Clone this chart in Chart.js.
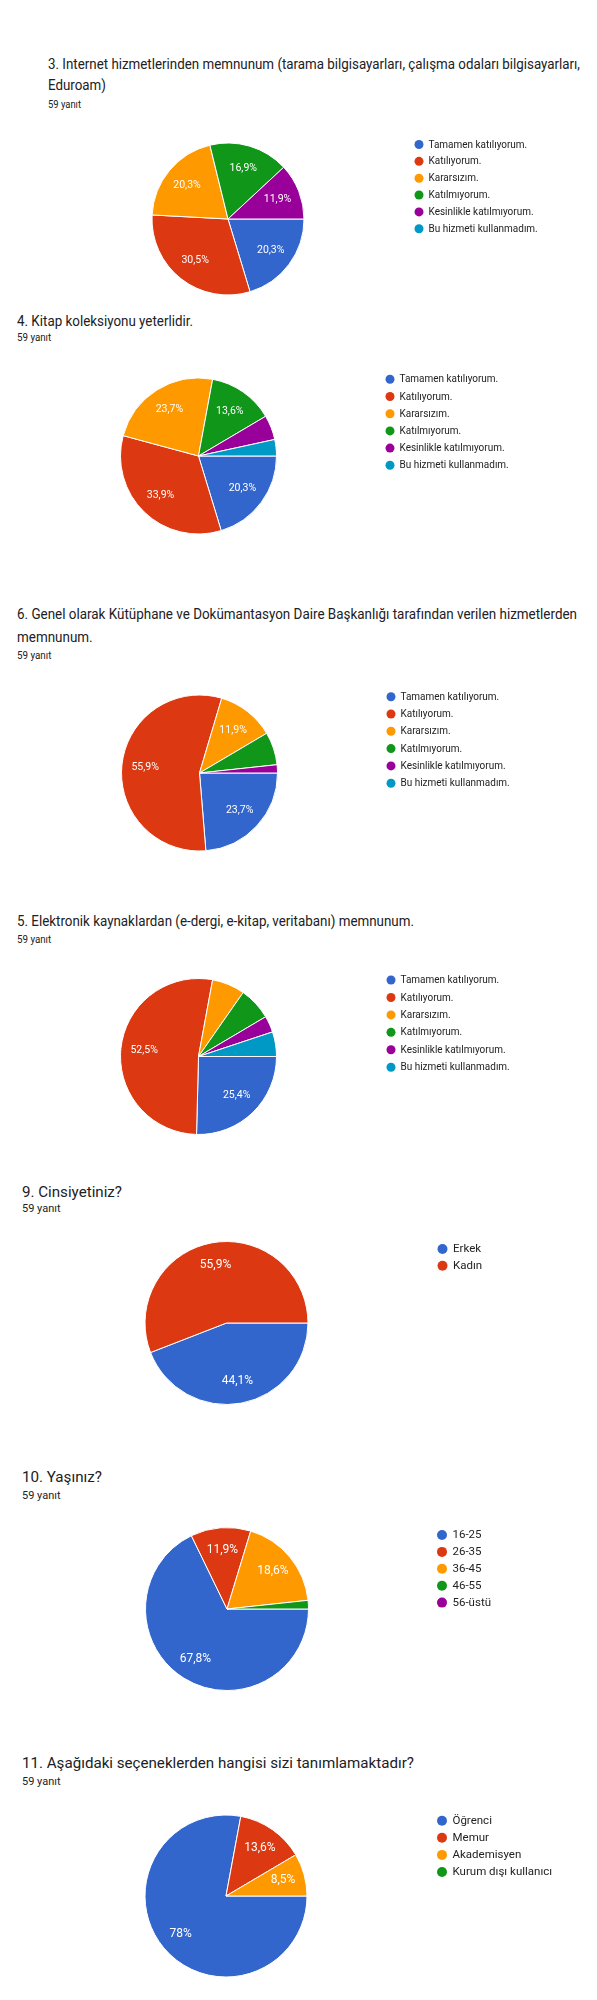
<!DOCTYPE html>
<html><head><meta charset="utf-8">
<script src="https://cdn.jsdelivr.net/npm/chart.js@4.4.1/dist/chart.umd.min.js"></script>
<style>
html,body{margin:0;padding:0;background:#fff;}
body{width:597px;height:2000px;position:relative;overflow:hidden;font-family:Roboto,"Noto Sans",sans-serif;color:#202124;}
.t{position:absolute;white-space:nowrap;transform-origin:0 50%;line-height:1.2;}
canvas{position:absolute;left:0;}
</style></head><body>
<script>
// ---------- DATA ----------
const agreeLabels = ['Tamamen katılıyorum.', 'Katılıyorum.', 'Kararsızım.', 'Katılmıyorum.', 'Kesinlikle katılmıyorum.', 'Bu hizmeti kullanmadım.'];
const q3Title = ['3. Internet hizmetlerinden memnunum (tarama bilgisayarları, çalışma odaları bilgisayarları,', 'Eduroam)'];
const q3Values = [20.3, 30.5, 20.3, 16.9, 11.9, 0];
const q4Title = ['4. Kitap koleksiyonu yeterlidir.'];
const q4Values = [20.3, 33.9, 23.7, 13.6, 5.1, 3.4];
const q6Title = ['6. Genel olarak Kütüphane ve Dokümantasyon Daire Başkanlığı tarafından verilen hizmetlerden', 'memnunum.'];
const q6Values = [23.7, 55.9, 11.9, 6.8, 1.7, 0];
const q5Title = ['5. Elektronik kaynaklardan (e-dergi, e-kitap, veritabanı) memnunum.'];
const q5Values = [25.4, 52.5, 6.8, 6.8, 3.4, 5.1];
const q9Title = ['9. Cinsiyetiniz?'];
const genderLabels = ['Erkek', 'Kadın'];
const q9Values = [44.1, 55.9];
const q10Title = ['10. Yaşınız?'];
const ageLabels = ['16-25', '26-35', '36-45', '46-55', '56-üstü'];
const q10Values = [67.8, 11.9, 18.6, 1.7, 0];
const q11Title = ['11. Aşağıdaki seçeneklerden hangisi sizi tanımlamaktadır?'];
const roleLabels = ['Öğrenci', 'Memur', 'Akademisyen', 'Kurum dışı kullanıcı'];
const q11Values = [78, 13.6, 8.5, 0];
const responseText = '59 yanıt';
const palette = ['#3366cc', '#dc3912', '#ff9900', '#109618', '#990099', '#0099c6'];

// ---------- LAYOUT ----------
const W = 597;
const charts = [
  {title:q3Title, labels:agreeLabels, values:q3Values, tx:48, ty:[65,86], tw:532, tfs:14.5, sy:105, sfs:10,
   cx:228, cy:219, r:76, lx:419, ly:144.5, ls:16.85, lfs:10.5, lsx:0.95, cr:4.5, gap:9.5, pfs:10.5, pf:0.7},
  {title:q4Title, labels:agreeLabels, values:q4Values, tx:17, ty:[321], tw:176, tfs:14, sy:338, sfs:10,
   cx:198.5, cy:456, r:78, lx:390, ly:379.3, ls:17.2, lfs:10.5, lsx:0.95, cr:4.5, gap:9.5, pfs:10.5, pf:0.7},
  {title:q6Title, labels:agreeLabels, values:q6Values, tx:17, ty:[614,637], tw:560, tfs:14, sy:656, sfs:10,
   cx:199.5, cy:773, r:78, lx:391, ly:696.7, ls:17.3, lfs:10.5, lsx:0.95, cr:4.5, gap:9.5, pfs:10.5, pf:0.7},
  {title:q5Title, labels:agreeLabels, values:q5Values, tx:17, ty:[921], tw:397, tfs:14, sy:940, sfs:10,
   cx:198.5, cy:1056.5, r:78, lx:391, ly:980, ls:17.45, lfs:10.5, lsx:0.95, cr:4.5, gap:9.5, pfs:10.5, pf:0.7},
  {title:q9Title, labels:genderLabels, values:q9Values, tx:22, ty:[1191.7], tw:100, tfs:15, sy:1209, sfs:11,
   cx:226.5, cy:1323, r:81.5, lx:442.5, ly:1249, ls:16.7, lfs:11.5, lsx:1, cr:5, gap:10.5, pfs:12, pf:0.73},
  {title:q10Title, labels:ageLabels, values:q10Values, tx:22, ty:[1477], tw:80, tfs:15, sy:1496, sfs:11,
   cx:227, cy:1609, r:81.5, lx:442, ly:1535, ls:16.9, lfs:11.5, lsx:1, cr:5, gap:10.5, pfs:12, pf:0.73},
  {title:q11Title, labels:roleLabels, values:q11Values, tx:22, ty:[1763], tw:392, tfs:15, sy:1782, sfs:11,
   cx:226, cy:1896, r:81, lx:442, ly:1820.7, ls:17.1, lfs:11.5, lsx:1, cr:5, gap:10.5, pfs:12, pf:0.73}
];

function fmtPct(v){ return String(v).replace('.', ',') + '%'; }

const legendPlugin = {
  id: 'gLegend',
  afterDraw(chart, args, o) {
    const ctx = chart.ctx, ds = chart.data.datasets[0];
    ctx.save();
    chart.data.labels.forEach((lab, i) => {
      const y = o.y + i * o.step;
      ctx.fillStyle = ds.backgroundColor[i];
      ctx.beginPath(); ctx.arc(o.x, y, o.r, 0, Math.PI * 2); ctx.fill();
      ctx.fillStyle = '#222';
      ctx.font = o.size + 'px Roboto';
      ctx.textBaseline = 'middle';
      ctx.save(); ctx.translate(o.x + o.gap, y + 0.5); ctx.scale(o.sx, 1);
      ctx.fillText(lab, 0, 0); ctx.restore();
    });
    ctx.restore();
  }
};
const labelPlugin = {
  id: 'gLabels',
  afterDatasetsDraw(chart, args, o) {
    const ctx = chart.ctx, ds = chart.data.datasets[0];
    const total = ds.data.reduce((a, b) => a + b, 0);
    ctx.save();
    ctx.fillStyle = '#fff'; ctx.font = o.size + 'px Roboto';
    ctx.textAlign = 'center'; ctx.textBaseline = 'middle';
    chart.getDatasetMeta(0).data.forEach((arc, i) => {
      const v = ds.data[i];
      if (v / total * 100 < 7.5) return;
      const p = arc.getProps(['x', 'y', 'startAngle', 'endAngle', 'outerRadius'], true);
      const mid = (p.startAngle + p.endAngle) / 2, d = p.outerRadius * o.frac;
      ctx.fillText(fmtPct(v), p.x + Math.cos(mid) * d, p.y + Math.sin(mid) * d);
    });
    ctx.restore();
  }
};

function addText(txt, x, cy, fs, cls) {
  const d = document.createElement('div');
  d.className = 't';
  d.style.left = x + 'px';
  d.style.top = (cy - 0.6 * fs) + 'px';
  d.style.fontSize = fs + 'px';
  d.textContent = txt;
  document.body.appendChild(d);
  return d;
}

charts.forEach(c => {
  // title lines
  const lines = c.title.map((t, i) => addText(t, c.tx, c.ty[i], c.tfs));
  const w = lines[0].getBoundingClientRect().width;
  const s = c.tw / w;
  lines.forEach(l => l.style.transform = 'scaleX(' + s + ')');
  const sub = addText(responseText, c.tx, c.sy, c.sfs);
  sub.style.transform = 'scaleX(' + Math.min(1, s + 0.02) + ')';

  // canvas
  const pad = 8;
  const top = Math.floor(c.cy - c.r - pad);
  const H = Math.ceil(c.cy + c.r + pad) - top;
  const cv = document.createElement('canvas');
  cv.width = W; cv.height = H; cv.style.top = top + 'px';
  document.body.appendChild(cv);
  new Chart(cv, {
    type: 'pie',
    data: {
      labels: c.labels,
      datasets: [{
        data: c.values,
        backgroundColor: palette.slice(0, c.values.length),
        borderColor: '#ffffff',
        borderWidth: 1,
        radius: c.r
      }]
    },
    options: {
      responsive: false,
      animation: false,
      events: [],
      rotation: 90,
      layout: { padding: { left: c.cx - c.r, right: W - (c.cx + c.r), top: c.cy - c.r - top, bottom: top + H - (c.cy + c.r) } },
      plugins: {
        legend: { display: false },
        tooltip: { enabled: false },
        gLegend: { x: c.lx, y: c.ly - top, step: c.ls, size: c.lfs, sx: c.lsx, r: c.cr, gap: c.gap },
        gLabels: { size: c.pfs, frac: c.pf }
      }
    },
    plugins: [legendPlugin, labelPlugin]
  });
});
</script>
</body></html>
